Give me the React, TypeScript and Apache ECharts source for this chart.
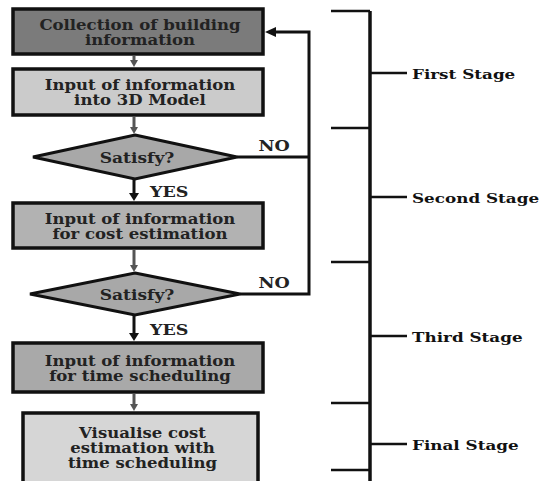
import React, { useEffect, useRef } from "react";
import * as echarts from "echarts";

// ---- content ----
const processLabels = [
  "Collection of building\ninformation",
  "Input of information\ninto 3D Model",
  "Input of information\nfor cost estimation",
  "Input of information\nfor time scheduling",
  "Visualise cost\nestimation with\ntime scheduling",
];
const decisionLabels = ["Satisfy?", "Satisfy?"];
const yesLabel = "YES";
const noLabel = "NO";
const stageLabels = ["First Stage", "Second Stage", "Third Stage", "Final Stage"];

// ---- layout (kept separate from content) ----
const boxLayout = [
  { x: 13, y: 9, w: 250, h: 45, fill: "#7b7b7b" },
  { x: 13, y: 69, w: 250, h: 46, fill: "#cbcbcb" },
  { x: 13, y: 203, w: 250, h: 45, fill: "#b2b2b2" },
  { x: 13, y: 343, w: 250, h: 49, fill: "#a9a9a9" },
  { x: 23, y: 413, w: 235, h: 80, fill: "#d6d6d6" },
];
const diamondLayout = [
  { cx: 135, cy: 157, hw: 102, hh: 22 },
  { cx: 135, cy: 294, hw: 105, hh: 21 },
];
const bracketX = 370;
const bracketTicks = [11, 128, 262, 403, 470];
const stageTickY = [73, 197, 336, 444];

const FONT = "'DejaVu Serif', 'Liberation Serif', serif";
const TEXT_FILL = "#222";

function arrowDown(x: number, y: number, color: string, w = 5, h = 7) {
  return {
    type: "polygon",
    shape: { points: [[x - w, y - h], [x + w, y - h], [x, y]] },
    style: { fill: color },
  };
}

export default function App() {
  const ref = useRef<HTMLDivElement>(null);
  useEffect(() => {
    if (!ref.current) return;
    const chart = echarts.init(ref.current, null, { renderer: "svg" });
    const els: any[] = [];

    // boxes
    boxLayout.forEach((b, i) => {
      els.push({
        type: "rect",
        shape: { x: b.x, y: b.y, width: b.w, height: b.h },
        style: { fill: b.fill, stroke: "#111", lineWidth: 3.5 },
      });
      els.push({
        type: "text",
        x: b.x + b.w / 2 + 2,
        y: i === 4 ? 448 : b.y + b.h / 2 + 1,
        scaleX: 1.18,
        style: {
          text: processLabels[i],
          fontFamily: FONT,
          fontWeight: "bold",
          fontSize: 14,
          lineHeight: i === 4 ? 15 : 15,
          fill: TEXT_FILL,
          align: "center",
          verticalAlign: "middle",
        },
      });
    });

    // diamonds
    diamondLayout.forEach((d, i) => {
      els.push({
        type: "polygon",
        shape: {
          points: [
            [d.cx, d.cy - d.hh],
            [d.cx + d.hw, d.cy],
            [d.cx, d.cy + d.hh],
            [d.cx - d.hw, d.cy],
          ],
        },
        style: { fill: "#a8a8a8", stroke: "#111", lineWidth: 3 },
      });
      els.push({
        type: "text",
        x: d.cx + 2,
        y: d.cy + 1,
        scaleX: 1.22,
        style: {
          text: decisionLabels[i],
          fontFamily: FONT,
          fontWeight: "bold",
          fontSize: 14,
          fill: TEXT_FILL,
          align: "center",
          verticalAlign: "middle",
        },
      });
    });

    // grey connector arrows between boxes
    const ax = 134;
    const grey = "#555";
    const greyLinks = [
      [boxLayout[0].y + boxLayout[0].h + 2, boxLayout[1].y - 2],
      [boxLayout[1].y + boxLayout[1].h + 2, diamondLayout[0].cy - diamondLayout[0].hh - 1],
      [boxLayout[2].y + boxLayout[2].h + 2, diamondLayout[1].cy - diamondLayout[1].hh - 1],
      [boxLayout[3].y + boxLayout[3].h + 2, boxLayout[4].y - 2],
    ];
    greyLinks.forEach(([y1, y2]) => {
      els.push({
        type: "line",
        shape: { x1: ax, y1, x2: ax, y2: y2 - 5 },
        style: { stroke: grey, lineWidth: 3 },
      });
      els.push(arrowDown(ax, y2, grey, 4, 7));
    });

    // YES arrows
    const yesLinks = [
      [diamondLayout[0].cy + diamondLayout[0].hh, boxLayout[2].y - 2],
      [diamondLayout[1].cy + diamondLayout[1].hh, boxLayout[3].y - 2],
    ];
    yesLinks.forEach(([y1, y2]) => {
      els.push({
        type: "line",
        shape: { x1: ax, y1, x2: ax, y2: y2 - 5 },
        style: { stroke: "#111", lineWidth: 3 },
      });
      els.push(arrowDown(ax, y2, "#111", 5, 8));
      els.push({
        type: "text",
        x: 150,
        y: (y1 + y2) / 2 + 2,
        scaleX: 1.25,
        style: {
          text: yesLabel,
          fontFamily: FONT,
          fontWeight: "bold",
          fontSize: 14,
          fill: TEXT_FILL,
          align: "left",
          verticalAlign: "middle",
        },
      });
    });

    // NO feedback lines
    const fbX = 309;
    const topY = 32;
    els.push({
      type: "polyline",
      shape: {
        points: [
          [diamondLayout[1].cx + diamondLayout[1].hw, diamondLayout[1].cy],
          [fbX, diamondLayout[1].cy],
          [fbX, topY],
          [boxLayout[0].x + boxLayout[0].w + 10, topY],
        ],
      },
      style: { stroke: "#111", lineWidth: 3, fill: null },
    });
    els.push({
      type: "line",
      shape: {
        x1: diamondLayout[0].cx + diamondLayout[0].hw,
        y1: diamondLayout[0].cy,
        x2: fbX,
        y2: diamondLayout[0].cy,
      },
      style: { stroke: "#111", lineWidth: 3 },
    });
    const tipX = boxLayout[0].x + boxLayout[0].w + 2;
    els.push({
      type: "polygon",
      shape: { points: [[tipX, topY], [tipX + 11, topY - 5], [tipX + 11, topY + 5]] },
      style: { fill: "#111" },
    });
    [146, 283].forEach((y) => {
      els.push({
        type: "text",
        x: 274,
        y,
        scaleX: 1.25,
        style: {
          text: noLabel,
          fontFamily: FONT,
          fontWeight: "bold",
          fontSize: 14,
          fill: TEXT_FILL,
          align: "center",
          verticalAlign: "middle",
        },
      });
    });

    // stage bracket
    els.push({
      type: "line",
      shape: { x1: bracketX, y1: bracketTicks[0], x2: bracketX, y2: 490 },
      style: { stroke: "#111", lineWidth: 3.5 },
    });
    bracketTicks.forEach((y) => {
      els.push({
        type: "line",
        shape: { x1: 331, y1: y, x2: bracketX, y2: y },
        style: { stroke: "#111", lineWidth: 2.5 },
      });
    });
    stageTickY.forEach((y, i) => {
      els.push({
        type: "line",
        shape: { x1: bracketX, y1: y, x2: 407, y2: y },
        style: { stroke: "#111", lineWidth: 2.5 },
      });
      els.push({
        type: "text",
        x: 412,
        y: y + 1,
        scaleX: 1.4,
        style: {
          text: stageLabels[i],
          fontFamily: FONT,
          fontWeight: "bold",
          fontSize: 12,
          fill: "#111",
          align: "left",
          verticalAlign: "middle",
        },
      });
    });

    chart.setOption({
      animation: false,
      backgroundColor: "#ffffff",
      graphic: { elements: els },
    });
    return () => chart.dispose();
  }, []);

  return (
    <div
      ref={ref}
      style={{ position: "fixed", left: 0, top: 0, width: 542, height: 481 }}
    />
  );
}
